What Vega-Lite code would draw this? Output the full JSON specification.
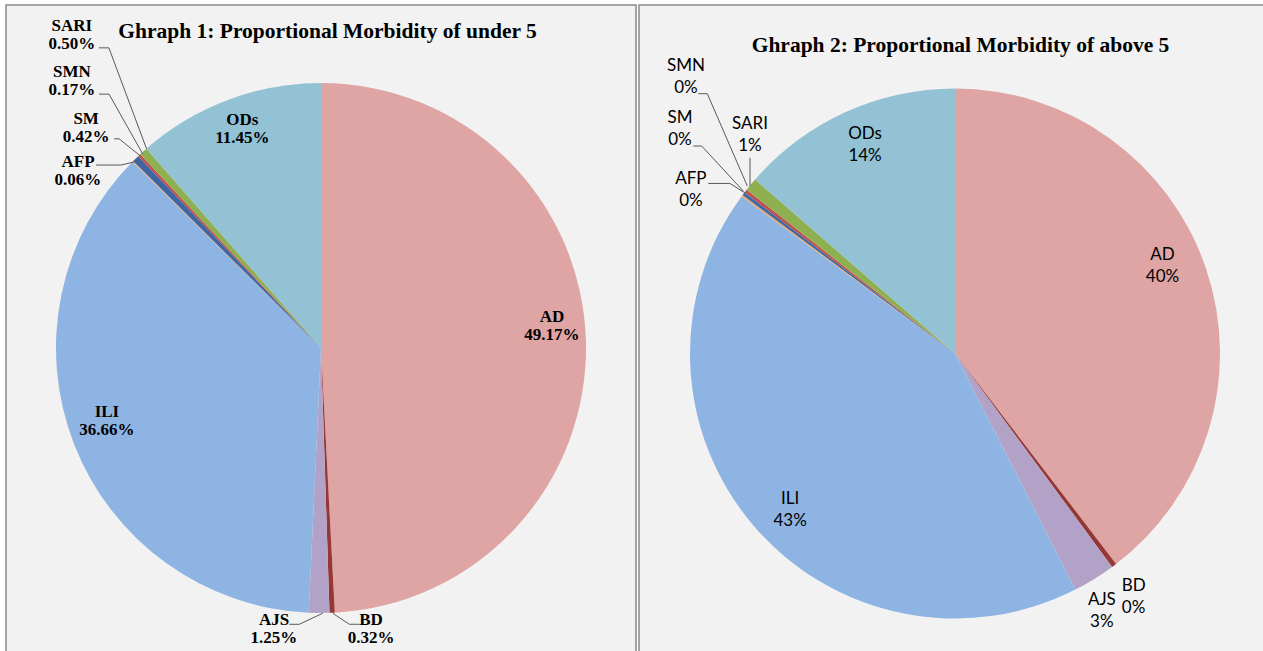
{
  "$schema": "https://vega.github.io/schema/vega-lite/v6.json",
  "background": "white",
  "padding": {"left": 5, "top": 4, "right": 0, "bottom": 0},
  "spacing": 1,
  "config": {
    "view": {"fill": "#f2f2f2", "stroke": "#8a8a8a", "strokeWidth": 1.5},
    "text": {"lineBreak": "\n", "align": "center", "baseline": "middle", "color": "#000000"},
    "rule": {"color": "#595959", "strokeWidth": 1}
  },
  "datasets": {
    "g1": [
      {"i": 1, "cat": "AD", "v": 0.4917},
      {"i": 2, "cat": "BD", "v": 0.0032},
      {"i": 3, "cat": "AJS", "v": 0.0125},
      {"i": 4, "cat": "ILI", "v": 0.3666},
      {"i": 5, "cat": "AFP", "v": 0.0006},
      {"i": 6, "cat": "SM", "v": 0.0042},
      {"i": 7, "cat": "SMN", "v": 0.0017},
      {"i": 8, "cat": "SARI", "v": 0.005},
      {"i": 9, "cat": "ODs", "v": 0.1145}
    ],
    "g2": [
      {"i": 1, "cat": "AD", "v": 0.396},
      {"i": 2, "cat": "BD", "v": 0.003},
      {"i": 3, "cat": "AJS", "v": 0.026},
      {"i": 4, "cat": "ILI", "v": 0.426},
      {"i": 5, "cat": "AFP", "v": 0.001},
      {"i": 6, "cat": "SM", "v": 0.002},
      {"i": 7, "cat": "SMN", "v": 0.002},
      {"i": 8, "cat": "SARI", "v": 0.008},
      {"i": 9, "cat": "ODs", "v": 0.136}
    ]
  },
  "hconcat": [
    {
      "width": 630,
      "height": 686,
      "view": {"fill": "#f2f2f2", "stroke": "#8a8a8a", "strokeWidth": 1.5},
      "data": {"name": "g1"},
      "title": {"text": "Ghraph 1: Proportional Morbidity of under 5", "font": "Liberation Serif", "fontSize": 21.5, "fontWeight": "bold", "color": "#000000", "anchor": "middle", "frame": "group", "baseline": "middle", "offset": -48, "dx": 6.5},
      "transform": [
        {"stack": "v", "groupby": [], "sort": [{"field": "i", "order": "ascending"}], "as": ["t0", "t1"]},
        {"calculate": "(datum.t0 + datum.t1) / 2", "as": "m"},
        {"calculate": "265 * sin(2 * PI * datum.m)", "as": "ex"},
        {"calculate": "265 * cos(2 * PI * datum.m)", "as": "ey"},
        {"calculate": "datum.cat + '\\n' + format(datum.v, '.2%')", "as": "lab"}
      ],
      "encoding": {
        "x": {"field": "ex", "type": "quantitative", "scale": {"domain": [-315, 315], "nice": false, "zero": false}, "axis": null},
        "y": {"field": "ey", "type": "quantitative", "scale": {"domain": [-343, 343], "nice": false, "zero": false}, "axis": null},
        "x2": {"field": "ex"},
        "y2": {"field": "ey"}
      },
      "layer": [
        {
          "mark": {"type": "arc", "outerRadius": 265},
          "encoding": {
            "x": null, "y": null, "x2": null, "y2": null,
            "theta": {"field": "t0", "type": "quantitative", "scale": {"domain": [0, 1]}},
            "theta2": {"field": "t1"},
            "color": {"field": "cat", "type": "nominal", "legend": null,
              "scale": {"domain": ["AD", "BD", "AJS", "ILI", "AFP", "SM", "SMN", "SARI", "ODs"],
                        "range": ["#dfa5a4", "#953735", "#b3a2c7", "#8eb4e3", "#e9a86a", "#3c66a4", "#c0504d", "#8fb050", "#92c2d4"]}}
          }
        },
        {"transform": [{"filter": "datum.cat === 'SARI'"}], "mark": {"type": "rule", "xOffset": 3.3, "yOffset": -2.6, "x2Offset": -34.4, "y2Offset": -103.6}},
        {"transform": [{"filter": "datum.cat === 'SARI'"}], "mark": {"type": "rule", "xOffset": -34.4, "yOffset": -103.6, "x2Offset": -44.4, "y2Offset": -103.6}},
        {"transform": [{"filter": "datum.cat === 'SMN'"}], "mark": {"type": "rule", "xOffset": 3.5, "yOffset": -1.4, "x2Offset": -30.2, "y2Offset": -61.1}},
        {"transform": [{"filter": "datum.cat === 'SMN'"}], "mark": {"type": "rule", "xOffset": -30.2, "yOffset": -61.1, "x2Offset": -40.2, "y2Offset": -61.1}},
        {"transform": [{"filter": "datum.cat === 'SM'"}], "mark": {"type": "rule", "xOffset": 4.5, "yOffset": -2.8, "x2Offset": -16.5, "y2Offset": -19.8}},
        {"transform": [{"filter": "datum.cat === 'SM'"}], "mark": {"type": "rule", "xOffset": -16.5, "yOffset": -19.8, "x2Offset": -21.5, "y2Offset": -19.8}},
        {"transform": [{"filter": "datum.cat === 'AFP'"}], "mark": {"type": "rule", "xOffset": 5.2, "yOffset": -0.4, "x2Offset": -11.8, "y2Offset": 3.6}},
        {"transform": [{"filter": "datum.cat === 'AFP'"}], "mark": {"type": "rule", "xOffset": -11.8, "yOffset": 3.6, "x2Offset": -36.8, "y2Offset": 3.6}},
        {"transform": [{"filter": "datum.cat === 'AJS'"}], "mark": {"type": "rule", "xOffset": 3.6, "yOffset": 0.3, "x2Offset": -19.8, "y2Offset": 11.3}},
        {"transform": [{"filter": "datum.cat === 'AJS'"}], "mark": {"type": "rule", "xOffset": -19.8, "yOffset": 11.3, "x2Offset": -29.8, "y2Offset": 11.3}},
        {"transform": [{"filter": "datum.cat === 'BD'"}], "mark": {"type": "rule", "xOffset": 0.6, "yOffset": 0.5, "x2Offset": 17.2, "y2Offset": 11.5}},
        {"transform": [{"filter": "datum.cat === 'BD'"}], "mark": {"type": "rule", "xOffset": 17.2, "yOffset": 11.5, "x2Offset": 27.2, "y2Offset": 11.5}},
        {"transform": [{"filter": "datum.cat === 'AD'"}], "mark": {"type": "text", "radius": 232, "dx": -1, "dy": -25, "font": "Liberation Serif", "fontWeight": "bold", "fontSize": 17, "lineHeight": 18}, "encoding": {"x": null, "y": null, "x2": null, "y2": null, "theta": {"field": "m", "type": "quantitative", "scale": {"domain": [0, 1]}}, "text": {"field": "lab"}}},
        {"transform": [{"filter": "datum.cat === 'ILI'"}], "mark": {"type": "text", "radius": 232, "dx": 2, "dy": -20.5, "font": "Liberation Serif", "fontWeight": "bold", "fontSize": 17, "lineHeight": 18}, "encoding": {"x": null, "y": null, "x2": null, "y2": null, "theta": {"field": "m", "type": "quantitative", "scale": {"domain": [0, 1]}}, "text": {"field": "lab"}}},
        {"transform": [{"filter": "datum.cat === 'ODs'"}], "mark": {"type": "text", "radius": 232, "dx": 3, "dy": -11, "font": "Liberation Serif", "fontWeight": "bold", "fontSize": 17, "lineHeight": 18}, "encoding": {"x": null, "y": null, "x2": null, "y2": null, "theta": {"field": "m", "type": "quantitative", "scale": {"domain": [0, 1]}}, "text": {"field": "lab"}}},
        {"transform": [{"filter": "datum.cat === 'SARI'"}], "mark": {"type": "text", "radius": 265, "dx": -71.4, "dy": -125.6, "font": "Liberation Serif", "fontWeight": "bold", "fontSize": 17, "lineHeight": 18}, "encoding": {"x": null, "y": null, "x2": null, "y2": null, "theta": {"field": "m", "type": "quantitative", "scale": {"domain": [0, 1]}}, "text": {"field": "lab"}}},
        {"transform": [{"filter": "datum.cat === 'SMN'"}], "mark": {"type": "text", "radius": 265, "dx": -67.2, "dy": -83.1, "font": "Liberation Serif", "fontWeight": "bold", "fontSize": 17, "lineHeight": 18}, "encoding": {"x": null, "y": null, "x2": null, "y2": null, "theta": {"field": "m", "type": "quantitative", "scale": {"domain": [0, 1]}}, "text": {"field": "lab"}}},
        {"transform": [{"filter": "datum.cat === 'SM'"}], "mark": {"type": "text", "radius": 265, "dx": -49.5, "dy": -39.8, "font": "Liberation Serif", "fontWeight": "bold", "fontSize": 17, "lineHeight": 18}, "encoding": {"x": null, "y": null, "x2": null, "y2": null, "theta": {"field": "m", "type": "quantitative", "scale": {"domain": [0, 1]}}, "text": {"field": "lab"}}},
        {"transform": [{"filter": "datum.cat === 'AFP'"}], "mark": {"type": "text", "radius": 265, "dx": -54.8, "dy": 0.6, "font": "Liberation Serif", "fontWeight": "bold", "fontSize": 17, "lineHeight": 18}, "encoding": {"x": null, "y": null, "x2": null, "y2": null, "theta": {"field": "m", "type": "quantitative", "scale": {"domain": [0, 1]}}, "text": {"field": "lab"}}},
        {"transform": [{"filter": "datum.cat === 'AJS'"}], "mark": {"type": "text", "radius": 265, "dx": -45.1, "dy": 7, "font": "Liberation Serif", "fontWeight": "bold", "fontSize": 17, "lineHeight": 18}, "encoding": {"x": null, "y": null, "x2": null, "y2": null, "theta": {"field": "m", "type": "quantitative", "scale": {"domain": [0, 1]}}, "text": {"field": "lab"}}},
        {"transform": [{"filter": "datum.cat === 'BD'"}], "mark": {"type": "text", "radius": 265, "dx": 38.9, "dy": 7.2, "font": "Liberation Serif", "fontWeight": "bold", "fontSize": 17, "lineHeight": 18}, "encoding": {"x": null, "y": null, "x2": null, "y2": null, "theta": {"field": "m", "type": "quantitative", "scale": {"domain": [0, 1]}}, "text": {"field": "lab"}}}
      ]
    },
    {
      "width": 632,
      "height": 697,
      "view": {"fill": "#f2f2f2", "stroke": "#8a8a8a", "strokeWidth": 1.5},
      "data": {"name": "g2"},
      "title": {"text": "Ghraph 2: Proportional Morbidity of above 5", "font": "Liberation Serif", "fontSize": 21.5, "fontWeight": "bold", "color": "#000000", "anchor": "middle", "frame": "group", "baseline": "middle", "offset": -62, "dx": 5.5},
      "transform": [
        {"stack": "v", "groupby": [], "sort": [{"field": "i", "order": "ascending"}], "as": ["t0", "t1"]},
        {"calculate": "(datum.t0 + datum.t1) / 2", "as": "m"},
        {"calculate": "265 * sin(2 * PI * datum.m)", "as": "ex"},
        {"calculate": "265 * cos(2 * PI * datum.m)", "as": "ey"},
        {"calculate": "datum.cat + '\\n' + format(datum.v, '.0%')", "as": "lab"}
      ],
      "encoding": {
        "x": {"field": "ex", "type": "quantitative", "scale": {"domain": [-316, 316], "nice": false, "zero": false}, "axis": null},
        "y": {"field": "ey", "type": "quantitative", "scale": {"domain": [-348.5, 348.5], "nice": false, "zero": false}, "axis": null},
        "x2": {"field": "ex"},
        "y2": {"field": "ey"}
      },
      "layer": [
        {
          "mark": {"type": "arc", "outerRadius": 265},
          "encoding": {
            "x": null, "y": null, "x2": null, "y2": null,
            "theta": {"field": "t0", "type": "quantitative", "scale": {"domain": [0, 1]}},
            "theta2": {"field": "t1"},
            "color": {"field": "cat", "type": "nominal", "legend": null,
              "scale": {"domain": ["AD", "BD", "AJS", "ILI", "AFP", "SM", "SMN", "SARI", "ODs"],
                        "range": ["#dfa5a4", "#953735", "#b3a2c7", "#8eb4e3", "#e9a86a", "#3c66a4", "#c0504d", "#8fb050", "#92c2d4"]}}
          }
        },
        {"transform": [{"filter": "datum.cat === 'SMN'"}], "mark": {"type": "rule", "xOffset": 1.7, "yOffset": -5.1, "x2Offset": -38.3, "y2Offset": -97.4}},
        {"transform": [{"filter": "datum.cat === 'SMN'"}], "mark": {"type": "rule", "xOffset": -38.3, "yOffset": -97.4, "x2Offset": -47.3, "y2Offset": -97.4}},
        {"transform": [{"filter": "datum.cat === 'SM'"}], "mark": {"type": "rule", "xOffset": -0.3, "yOffset": -2.7, "x2Offset": -41.9, "y2Offset": -47.7}},
        {"transform": [{"filter": "datum.cat === 'SM'"}], "mark": {"type": "rule", "xOffset": -41.9, "yOffset": -47.7, "x2Offset": -50.3, "y2Offset": -47.7}},
        {"transform": [{"filter": "datum.cat === 'SARI'"}], "mark": {"type": "rule", "xOffset": -0.8, "yOffset": 1.4, "x2Offset": -0.8, "y2Offset": -26.9}},
        {"transform": [{"filter": "datum.cat === 'AFP'"}], "mark": {"type": "rule", "xOffset": 2.8, "yOffset": -2.9, "x2Offset": -12.2, "y2Offset": -12.3}},
        {"transform": [{"filter": "datum.cat === 'AFP'"}], "mark": {"type": "rule", "xOffset": -12.2, "yOffset": -12.3, "x2Offset": -33.9, "y2Offset": -12.3}},
        {"transform": [{"filter": "datum.cat === 'AD'"}], "mark": {"type": "text", "radius": 226, "dx": -6.6, "dy": -26.4, "font": "Lato", "fontSize": 17, "lineHeight": 22}, "encoding": {"x": null, "y": null, "x2": null, "y2": null, "theta": {"field": "m", "type": "quantitative", "scale": {"domain": [0, 1]}}, "text": {"field": "lab"}}},
        {"transform": [{"filter": "datum.cat === 'ILI'"}], "mark": {"type": "text", "radius": 226, "dx": 7.4, "dy": -0.7, "font": "Lato", "fontSize": 17, "lineHeight": 22}, "encoding": {"x": null, "y": null, "x2": null, "y2": null, "theta": {"field": "m", "type": "quantitative", "scale": {"domain": [0, 1]}}, "text": {"field": "lab"}}},
        {"transform": [{"filter": "datum.cat === 'ODs'"}], "mark": {"type": "text", "radius": 226, "dx": 3.7, "dy": -13.8, "font": "Lato", "fontSize": 17, "lineHeight": 22}, "encoding": {"x": null, "y": null, "x2": null, "y2": null, "theta": {"field": "m", "type": "quantitative", "scale": {"domain": [0, 1]}}, "text": {"field": "lab"}}},
        {"transform": [{"filter": "datum.cat === 'BD'"}], "mark": {"type": "text", "radius": 265, "dx": 19.5, "dy": 20.5, "font": "Lato", "fontSize": 17, "lineHeight": 22}, "encoding": {"x": null, "y": null, "x2": null, "y2": null, "theta": {"field": "m", "type": "quantitative", "scale": {"domain": [0, 1]}}, "text": {"field": "lab"}}},
        {"transform": [{"filter": "datum.cat === 'AJS'"}], "mark": {"type": "text", "radius": 265, "dx": 7.7, "dy": 21.1, "font": "Lato", "fontSize": 17, "lineHeight": 22}, "encoding": {"x": null, "y": null, "x2": null, "y2": null, "theta": {"field": "m", "type": "quantitative", "scale": {"domain": [0, 1]}}, "text": {"field": "lab"}}},
        {"transform": [{"filter": "datum.cat === 'AFP'"}], "mark": {"type": "text", "radius": 265, "dx": -51.2, "dy": -16.6, "font": "Lato", "fontSize": 17, "lineHeight": 22}, "encoding": {"x": null, "y": null, "x2": null, "y2": null, "theta": {"field": "m", "type": "quantitative", "scale": {"domain": [0, 1]}}, "text": {"field": "lab"}}},
        {"transform": [{"filter": "datum.cat === 'SM'"}], "mark": {"type": "text", "radius": 265, "dx": -63.6, "dy": -75.7, "font": "Lato", "fontSize": 17, "lineHeight": 22}, "encoding": {"x": null, "y": null, "x2": null, "y2": null, "theta": {"field": "m", "type": "quantitative", "scale": {"domain": [0, 1]}}, "text": {"field": "lab"}}},
        {"transform": [{"filter": "datum.cat === 'SMN'"}], "mark": {"type": "text", "radius": 265, "dx": -59.6, "dy": -125.1, "font": "Lato", "fontSize": 17, "lineHeight": 22}, "encoding": {"x": null, "y": null, "x2": null, "y2": null, "theta": {"field": "m", "type": "quantitative", "scale": {"domain": [0, 1]}}, "text": {"field": "lab"}}},
        {"transform": [{"filter": "datum.cat === 'SARI'"}], "mark": {"type": "text", "radius": 265, "dx": -0.8, "dy": -60.6, "font": "Lato", "fontSize": 17, "lineHeight": 22}, "encoding": {"x": null, "y": null, "x2": null, "y2": null, "theta": {"field": "m", "type": "quantitative", "scale": {"domain": [0, 1]}}, "text": {"field": "lab"}}}
      ]
    }
  ]
}
